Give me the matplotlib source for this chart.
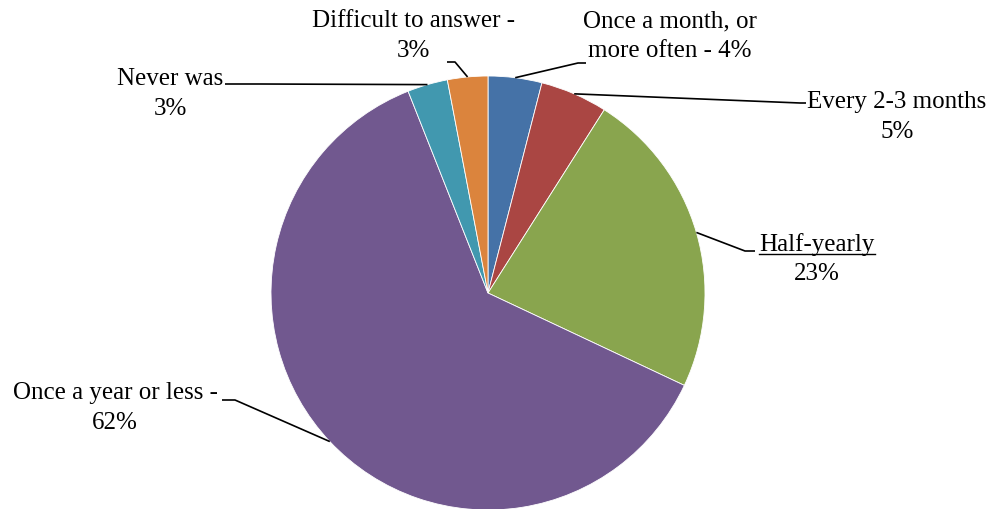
import matplotlib.pyplot as plt
import numpy as np

labels = ["Once a month, or\nmore often - 4%", "Every 2-3 months\n5%", "Half-yearly\n23%",
          "Once a year or less -\n62%", "Never was\n3%", "Difficult to answer -\n3%"]
values = [4, 5, 23, 62, 3, 3]
colors = ["#4572A7", "#AA4643", "#89A54E", "#71588F", "#4198AF", "#DB843D"]

plt.rcParams['font.family'] = ['Liberation Serif', 'DejaVu Serif']

W, H = 989, 509
fig = plt.figure(figsize=(W / 100, H / 100), dpi=100)
ax = fig.add_axes([0, 0, 1, 1])

cx, cy, r = 488, H - 293, 217
wedges, _ = ax.pie(values, colors=colors, startangle=90, counterclock=False,
                   center=(cx, cy), radius=r, frame=True,
                   wedgeprops=dict(edgecolor='white', linewidth=0.6))
ax.set_xlim(0, W)
ax.set_ylim(0, H)
ax.set_aspect('equal')
ax.axis('off')

# label centre, elbow point, end of horizontal stub (pixel coords from top)
layout = [
    ((670, 36), (578, 63), (586, 63)),
    ((897, 117), (800, 103), (806, 103)),
    ((817, 259), (745, 251), (755, 251)),
    ((115, 408), (235, 400), (222, 400)),
    ((170, 94), (260, 84), (225, 84)),
    ((413, 36), (455, 62), (447, 62)),
]

fs = 18
for w, lab, (tpos, elbow, stub) in zip(wedges, labels, layout):
    ang = np.deg2rad((w.theta1 + w.theta2) / 2)
    px = cx + r * np.cos(ang)
    py = cy + r * np.sin(ang)
    ax.plot([px, elbow[0], stub[0]], [py, H - elbow[1], H - stub[1]],
            color='black', lw=1.2, solid_capstyle='butt')
    ax.text(tpos[0], H - tpos[1], lab, ha='center', va='center', fontsize=fs,
            linespacing=1.42)
    if lab.startswith("Half"):
        first = lab.split("\n")[0]
        probe = ax.text(0, 0, first, fontsize=fs)
        fig.canvas.draw()
        bb = probe.get_window_extent()
        probe.remove()
        uy = H - (tpos[1] - 5)
        ax.plot([tpos[0] - bb.width / 2, tpos[0] + bb.width / 2], [uy, uy],
                color='black', lw=1)

fig.savefig("out.png", dpi=100, facecolor='white')
